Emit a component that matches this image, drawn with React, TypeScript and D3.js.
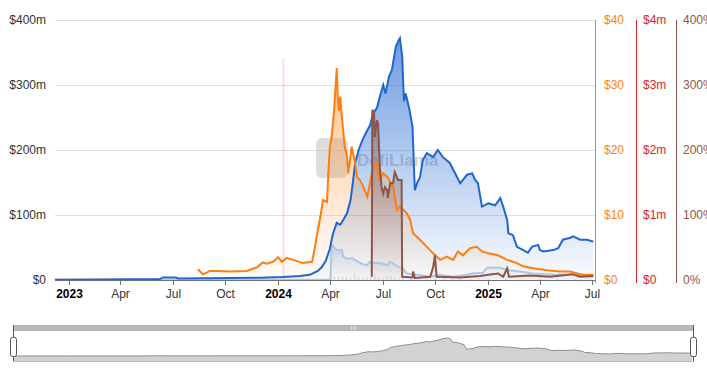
import { scaleTime, scaleLinear, line, area, extent } from 'd3';

type Point = [string, number];

// TVL ($m, left axis)
const tvl: Point[] = [
  ['2022-12-08', 0.5], ['2023-02-24', 0.8], ['2023-06-09', 1.5], ['2023-06-14', 4], ['2023-07-07', 4],
  ['2023-07-10', 2.5], ['2023-10-09', 3], ['2023-11-30', 3.5], ['2024-01-09', 4.5], ['2024-02-08', 6],
  ['2024-02-25', 8], ['2024-03-10', 14], ['2024-03-17', 20], ['2024-03-24', 30], ['2024-03-31', 48],
  ['2024-04-05', 70], ['2024-04-12', 88], ['2024-04-18', 85], ['2024-04-23', 92], ['2024-04-30', 103],
  ['2024-05-06', 123], ['2024-05-10', 150], ['2024-05-14', 180], ['2024-05-20', 200], ['2024-05-28', 218],
  ['2024-06-04', 230], ['2024-06-09', 238], ['2024-06-14', 255], ['2024-06-21', 265], ['2024-06-26', 282],
  ['2024-07-02', 300], ['2024-07-06', 287], ['2024-07-12', 313], ['2024-07-17', 323], ['2024-07-24', 359],
  ['2024-07-29', 369], ['2024-07-31', 372], ['2024-08-04', 344], ['2024-08-07', 275], ['2024-08-10', 287],
  ['2024-08-16', 265], ['2024-08-22', 236], ['2024-08-26', 138], ['2024-08-30', 149], ['2024-09-04', 158],
  ['2024-09-09', 185], ['2024-09-16', 195], ['2024-09-27', 189], ['2024-10-05', 200], ['2024-10-14', 189],
  ['2024-10-26', 180], ['2024-11-13', 149], ['2024-11-18', 154], ['2024-11-25', 162], ['2024-12-04', 164],
  ['2024-12-09', 154], ['2024-12-14', 149], ['2024-12-21', 113], ['2025-01-01', 118], ['2025-01-13', 115],
  ['2025-01-22', 126], ['2025-01-27', 113], ['2025-02-03', 92], ['2025-02-05', 72], ['2025-02-13', 69],
  ['2025-02-20', 51], ['2025-03-03', 46], ['2025-03-11', 42], ['2025-03-18', 51], ['2025-03-29', 54],
  ['2025-04-01', 46], ['2025-04-07', 44], ['2025-04-24', 46], ['2025-05-03', 49], ['2025-05-11', 62],
  ['2025-05-24', 65], ['2025-05-29', 67], ['2025-06-10', 62], ['2025-06-22', 62], ['2025-07-03', 59],
];

// second $m series on the left axis (light blue)
const staked: Point[] = [
  ['2022-12-08', 0.3], ['2024-04-01', 0.5], ['2024-04-03', 54], ['2024-04-12', 46], ['2024-04-21', 46],
  ['2024-04-23', 36], ['2024-04-30', 33], ['2024-05-10', 33], ['2024-05-19', 28], ['2024-05-28', 24],
  ['2024-06-04', 23], ['2024-06-09', 28], ['2024-06-14', 26], ['2024-06-26', 26], ['2024-07-09', 23],
  ['2024-07-14', 28], ['2024-07-31', 19], ['2024-08-05', 18], ['2024-08-12', 10], ['2024-08-30', 8],
  ['2024-09-22', 5], ['2024-10-09', 8], ['2024-11-01', 5], ['2024-11-25', 8], ['2024-12-05', 10],
  ['2024-12-23', 11], ['2024-12-30', 19], ['2025-01-22', 19], ['2025-02-03', 15], ['2025-02-25', 13],
  ['2025-03-20', 10], ['2025-04-24', 8], ['2025-05-29', 8], ['2025-07-03', 5],
];

// token price ($, orange axis)
const price: Point[] = [
  ['2023-08-14', 1.65], ['2023-08-23', 0.87], ['2023-09-04', 1.4], ['2023-09-16', 1.4], ['2023-10-09', 1.3],
  ['2023-11-07', 1.4], ['2023-11-25', 1.95], ['2023-12-05', 2.7], ['2023-12-12', 2.5], ['2023-12-23', 2.8],
  ['2024-01-01', 3.5], ['2024-01-07', 2.8], ['2024-01-16', 3.4], ['2024-01-27', 3.1], ['2024-02-13', 2.6],
  ['2024-02-29', 2.8], ['2024-03-05', 5.1], ['2024-03-10', 7.7], ['2024-03-14', 9.5], ['2024-03-19', 12.3],
  ['2024-03-26', 12.0], ['2024-03-28', 15.9], ['2024-03-31', 20.5], ['2024-04-03', 22], ['2024-04-07', 25.7],
  ['2024-04-12', 32.6], ['2024-04-14', 27.7], ['2024-04-16', 26], ['2024-04-18', 28.2], ['2024-04-21', 25],
  ['2024-04-26', 20.5], ['2024-04-30', 19], ['2024-05-02', 16.4], ['2024-05-08', 20.5], ['2024-05-14', 18],
  ['2024-05-17', 15.9], ['2024-05-22', 15.4], ['2024-05-28', 14.4], ['2024-06-04', 12.8], ['2024-06-09', 14.9],
  ['2024-06-14', 17.4], ['2024-06-21', 18], ['2024-06-26', 15.4], ['2024-07-02', 16.4], ['2024-07-09', 15.9],
  ['2024-07-19', 14.4], ['2024-07-26', 10.8], ['2024-07-31', 11.3], ['2024-08-12', 10.3], ['2024-08-18', 9.2],
  ['2024-08-23', 7.2], ['2024-09-04', 6.2], ['2024-09-16', 5.1], ['2024-09-27', 4.1], ['2024-10-09', 3.1],
  ['2024-10-21', 3.6], ['2024-11-01', 3.1], ['2024-11-09', 4.4], ['2024-11-18', 3.8], ['2024-11-30', 4.9],
  ['2024-12-12', 5.1], ['2024-12-21', 4.4], ['2025-01-01', 4.1], ['2025-01-18', 3.8], ['2025-02-03', 3.1],
  ['2025-02-20', 2.6], ['2025-03-03', 2.1], ['2025-03-20', 1.8], ['2025-04-13', 1.5], ['2025-05-06', 1.3],
  ['2025-05-24', 1.3], ['2025-06-05', 1.0], ['2025-06-15', 0.8], ['2025-07-03', 0.8],
];

// fees ($m, red axis) drawn as thin bars
const fees: Point[] = [
  ['2024-01-10', 3.4], ['2024-04-02', 0.03], ['2024-04-08', 0.05], ['2024-04-15', 0.04], ['2024-04-22', 0.06],
  ['2024-04-29', 0.05], ['2024-05-06', 0.04], ['2024-05-13', 0.1], ['2024-05-20', 0.05], ['2024-05-27', 0.04],
  ['2024-06-03', 0.05], ['2024-06-10', 0.06], ['2024-06-17', 0.08], ['2024-06-24', 0.05], ['2024-07-01', 0.04],
  ['2024-07-08', 0.05], ['2024-07-15', 0.06], ['2024-07-22', 0.04], ['2024-07-29', 0.03], ['2024-08-05', 0.03],
  ['2024-08-19', 0.02], ['2024-09-02', 0.02], ['2024-09-16', 0.02], ['2024-10-01', 0.02], ['2024-10-15', 0.02],
  ['2024-11-01', 0.02], ['2024-11-15', 0.02], ['2024-12-01', 0.02], ['2024-12-15', 0.02], ['2025-01-01', 0.02],
  ['2025-02-01', 0.02], ['2025-03-01', 0.02], ['2025-04-01', 0.02], ['2025-05-01', 0.02], ['2025-06-01', 0.02],
];

// ratio (%, brown axis)
const ratio: Point[] = [
  ['2024-06-12', 5], ['2024-06-13', 262], ['2024-06-16', 257], ['2024-06-17', 220], ['2024-06-21', 246],
  ['2024-06-23', 241], ['2024-06-26', 174], ['2024-06-29', 143], ['2024-07-02', 133], ['2024-07-05', 143],
  ['2024-07-09', 138], ['2024-07-10', 126], ['2024-07-14', 149], ['2024-07-19', 149], ['2024-07-22', 166],
  ['2024-07-28', 154], ['2024-08-03', 154], ['2024-08-04', 5], ['2024-08-22', 4], ['2024-08-23', 13],
  ['2024-08-26', 3], ['2024-09-22', 5], ['2024-09-27', 20], ['2024-09-30', 38], ['2024-10-03', 5],
  ['2024-11-13', 4], ['2024-12-18', 6], ['2025-01-01', 8], ['2025-01-18', 10], ['2025-01-27', 5],
  ['2025-02-03', 18], ['2025-02-06', 5], ['2025-03-15', 7], ['2025-04-19', 5], ['2025-05-27', 9],
  ['2025-06-10', 5], ['2025-07-03', 6],
];

const xTicks = ['2023-01-01', '2023-04-01', '2023-07-01', '2023-10-01', '2024-01-01', '2024-04-01',
  '2024-07-01', '2024-10-01', '2025-01-01', '2025-04-01', '2025-07-01'];
const xTickLabels = ['2023', 'Apr', 'Jul', 'Oct', '2024', 'Apr', 'Jul', 'Oct', '2025', 'Apr', 'Jul'];

const leftTicks = [0, 100, 200, 300, 400];
const leftLabels = ['$0', '$100m', '$200m', '$300m', '$400m'];
const priceTicks = [0, 10, 20, 30, 40];
const priceLabels = ['$0', '$10', '$20', '$30', '$40'];
const feeTicks = [0, 1, 2, 3, 4];
const feeLabels = ['$0', '$1m', '$2m', '$3m', '$4m'];
const ratioTicks = [0, 100, 200, 300, 400];
const ratioLabels = ['0%', '100%', '200%', '300%', '400%'];

const BLUE = '#1f66d1';
const LIGHT_BLUE = '#aec7e8';
const ORANGE = '#ff7f0e';
const RED = '#d62728';
const BROWN = '#8c564b';
const FONT = '"Liberation Sans", Arial, sans-serif';

const d = (s: string) => new Date(s + 'T00:00:00');

export default function App() {
  const left = 55, right = 595, top = 20, bottom = 280;

  const x = scaleTime().domain([d('2022-12-08'), d('2025-07-06')]).range([left, right]);
  const yLeft = scaleLinear().domain([0, 400]).range([bottom, top]);
  const yPrice = scaleLinear().domain([0, 40]).range([bottom, top]);
  const yFee = scaleLinear().domain([0, 4]).range([bottom, top]);
  const yRatio = scaleLinear().domain([0, 400]).range([bottom, top]);

  const mk = (y: any) => ({
    l: line<Point>().x((p) => x(d(p[0]))).y((p) => y(p[1])),
    a: area<Point>().x((p) => x(d(p[0]))).y0(bottom).y1((p) => y(p[1])),
  });
  const tvlS = mk(yLeft);
  const stakedS = mk(yLeft);
  const priceS = mk(yPrice);
  const ratioS = mk(yRatio);

  // slider (data zoom) at the bottom
  const sLeft = 13, sRight = 694, sBottom = 361;
  const xs = scaleTime().domain(x.domain()).range([sLeft, sRight]);
  const ext = extent(tvl, (p) => p[1]) as [number, number];
  const ys = scaleLinear().domain([0, ext[1]]).range([356, 338]);
  const sLine = line<Point>().x((p) => xs(d(p[0]))).y((p) => ys(p[1]));
  const sArea = area<Point>().x((p) => xs(d(p[0]))).y0(sBottom).y1((p) => ys(p[1]));

  return (
    <svg width={707} height={368} style={{ position: 'absolute', left: 0, top: 0, fontFamily: FONT }}>
      <defs>
        <linearGradient id="gBlue" x1="0" y1="0" x2="0" y2="1">
          <stop offset="0" stopColor={BLUE} stopOpacity={0.65} />
          <stop offset="1" stopColor={BLUE} stopOpacity={0.02} />
        </linearGradient>
        <linearGradient id="gOrange" x1="0" y1="0" x2="0" y2="1">
          <stop offset="0" stopColor={ORANGE} stopOpacity={0.45} />
          <stop offset="1" stopColor={ORANGE} stopOpacity={0.02} />
        </linearGradient>
        <linearGradient id="gBrown" x1="0" y1="0" x2="0" y2="1">
          <stop offset="0" stopColor={BROWN} stopOpacity={0.55} />
          <stop offset="1" stopColor={BROWN} stopOpacity={0.03} />
        </linearGradient>
        <linearGradient id="gLight" x1="0" y1="0" x2="0" y2="1">
          <stop offset="0" stopColor={LIGHT_BLUE} stopOpacity={0.4} />
          <stop offset="1" stopColor={LIGHT_BLUE} stopOpacity={0.05} />
        </linearGradient>
      </defs>

      {/* grid */}
      {leftTicks.map((t) => (
        <line key={t} x1={left} x2={right} y1={yLeft(t) + 0.5} y2={yLeft(t) + 0.5} stroke="#e0e0e0" />
      ))}

      {/* left axis labels */}
      {leftTicks.map((t, i) => (
        <text key={t} x={46} y={yLeft(t) + 4} textAnchor="end" fontSize={12} fill="#333">{leftLabels[i]}</text>
      ))}

      {/* watermark */}
      <g opacity={0.5}>
        <rect x={316} y={138} width={32} height={40} rx={6} fill="#bdbdbd" />
        <text x={357} y={166} fontSize={17} fontWeight="bold" fill="#a8a8a8">DefiLlama</text>
      </g>

      {/* fee bars */}
      {fees.map((p) => (
        <rect key={p[0]} x={x(d(p[0])) - 1} width={2} y={yFee(p[1])} height={bottom - yFee(p[1])}
          fill={RED} opacity={0.15} />
      ))}

      {/* areas */}
      <path d={stakedS.a(staked) ?? ''} fill="url(#gLight)" />
      <path d={tvlS.a(tvl) ?? ''} fill="url(#gBlue)" />
      <path d={priceS.a(price) ?? ''} fill="url(#gOrange)" />
      <path d={ratioS.a(ratio) ?? ''} fill="url(#gBrown)" />

      {/* lines */}
      <path d={stakedS.l(staked) ?? ''} fill="none" stroke={LIGHT_BLUE} strokeWidth={2} />
      <path d={tvlS.l(tvl) ?? ''} fill="none" stroke={BLUE} strokeWidth={2} />
      <path d={priceS.l(price) ?? ''} fill="none" stroke={ORANGE} strokeWidth={2} />
      <path d={ratioS.l(ratio) ?? ''} fill="none" stroke={BROWN} strokeWidth={2} />

      {/* x axis */}
      <line x1={left} x2={right} y1={bottom + 0.5} y2={bottom + 0.5} stroke="#6e7079" />
      {xTicks.map((t, i) => {
        const px = Math.round(x(d(t))) + 0.5;
        const isYear = xTickLabels[i].length === 4;
        return (
          <g key={t}>
            <line x1={px} x2={px} y1={bottom} y2={bottom + 5} stroke="#6e7079" />
            <text x={px} y={298} textAnchor="middle" fontSize={12}
              fontWeight={isYear ? 'bold' : 'normal'} fill={isYear ? '#000' : '#333'}>{xTickLabels[i]}</text>
          </g>
        );
      })}

      {/* right axes */}
      <line x1={595.5} x2={595.5} y1={top} y2={bottom + 3} stroke={ORANGE} />
      {priceTicks.map((t, i) => (
        <text key={t} x={604} y={yPrice(t) + 4} fontSize={12} fill={ORANGE}>{priceLabels[i]}</text>
      ))}
      <line x1={636.5} x2={636.5} y1={top} y2={bottom + 3} stroke={RED} />
      {feeTicks.map((t, i) => (
        <text key={t} x={643} y={yFee(t) + 4} fontSize={12} fill={RED}>{feeLabels[i]}</text>
      ))}
      <line x1={676.5} x2={676.5} y1={top} y2={bottom + 3} stroke={BROWN} />
      {ratioTicks.map((t, i) => (
        <text key={t} x={683} y={yRatio(t) + 4} fontSize={12} fill={BROWN}>{ratioLabels[i]}</text>
      ))}

      {/* slider */}
      <rect x={sLeft} y={325} width={sRight - sLeft} height={6} fill="#b8b8b8" />
      {[-2, 0, 2].map((o) => (
        <line key={o} x1={353.5 + o} x2={353.5 + o} y1={326.5} y2={329.5} stroke="#e6e6e6" />
      ))}
      <path d={sArea(tvl) ?? ''} fill="#d2d2d2" />
      <path d={sLine(tvl) ?? ''} fill="none" stroke="#8f8f8f" strokeWidth={1} />
      <line x1={sLeft} x2={sRight} y1={sBottom + 0.5} y2={sBottom + 0.5} stroke="#b8b8b8" />
      <line x1={sLeft + 0.5} x2={sLeft + 0.5} y1={325} y2={sBottom} stroke="#555" />
      <line x1={sRight - 0.5} x2={sRight - 0.5} y1={325} y2={sBottom} stroke="#555" />
      <rect x={10.5} y={337.5} width={6} height={19} rx={2} fill="#fff" stroke="#555" />
      <rect x={sRight - 3.5} y={337.5} width={6} height={19} rx={2} fill="#fff" stroke="#555" />
    </svg>
  );
}
